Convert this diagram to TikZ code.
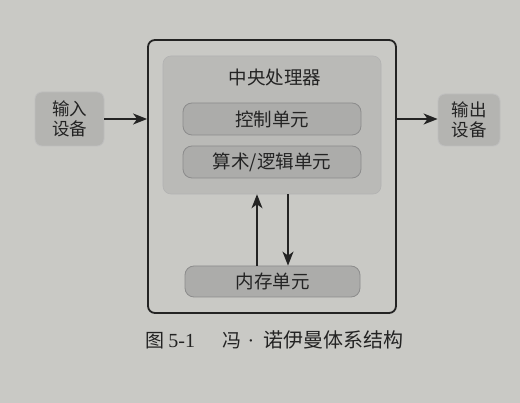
\documentclass[tikz,border=0pt]{standalone}
\usepackage{fontspec}
\newfontfamily\cjk{Noto Sans CJK SC}
\newfontfamily\latinfont{Liberation Serif}
\usetikzlibrary{arrows.meta}
\definecolor{bg}{RGB}{201,201,197}
\definecolor{cpufill}{RGB}{186,186,183}
\definecolor{unitfill}{RGB}{172,172,170}
\definecolor{devfill}{RGB}{180,180,177}
\definecolor{ink}{RGB}{35,35,35}
\tikzset{
  outerbox/.style={draw=ink, line width=1.8pt, rounded corners=7pt, inner sep=0pt},
  cpubox/.style={draw=black!30, fill=cpufill, line width=0.6pt, rounded corners=8pt, inner sep=0pt},
  unitbox/.style={draw=black!45, fill=unitfill, line width=0.8pt, rounded corners=9pt, inner sep=0pt, text=ink, font=\cjk\fontsize{18.5}{20}\selectfont},
  devbox/.style={draw=black!25, fill=devfill, line width=0.8pt, rounded corners=7pt, inner sep=0pt, align=center, text=ink, font=\cjk\fontsize{17.5}{20}\selectfont},
  arr/.style={draw=ink, line width=1.4pt, -{Stealth[length=14pt,width=11pt,inset=4pt]}},
  lbl/.style={text=ink, inner sep=0pt}
}
\begin{document}
\begin{tikzpicture}[x=1pt,y=-1pt]
\fill[bg] (0,0) rectangle (520,403);
\useasboundingbox (0,0) rectangle (520,403);
\node[outerbox, minimum width=248pt, minimum height=273pt] (outer) at (272,176.5) {};
\node[cpubox, minimum width=218pt, minimum height=138pt] (cpu) at (272,125) {};
\node[lbl, font=\cjk\fontsize{18.5}{20}\selectfont] (cputitle) at (275,77) {中央处理器};
\node[unitbox, minimum width=178pt, minimum height=32pt] (ctrl) at (272,119) {控制单元};
\node[unitbox, minimum width=178pt, minimum height=32pt] (alu) at (272,162) {算术/逻辑单元};
\node[unitbox, minimum width=175pt, minimum height=31pt] (mem) at (272.5,281.5) {内存单元};
\node[devbox, minimum width=69pt, minimum height=54pt] (in) at (69.5,119) {输入\\设备};
\node[devbox, minimum width=62pt, minimum height=52pt] (out) at (469,120) {输出\\设备};
\draw[arr] (in.east) -- (in.east -| outer.west);
\draw[arr] (in.east -| outer.east) -- (in.east -| out.west);
\draw[arr] ([xshift=-15.5pt]mem.north) -- ([xshift=-15.5pt]mem.north |- cpu.south);
\draw[arr] ([xshift=15.5pt]mem.north |- cpu.south) -- ([xshift=15.5pt]mem.north);
\node[lbl, font=\cjk\fontsize{19}{20}\selectfont, anchor=base west] (cap1) at (145,348) {图 {\latinfont\fontsize{20}{20}\selectfont 5-1}};
\node[lbl, font=\cjk\fontsize{19}{20}\selectfont, anchor=base west] (cap2) at (222,348) {冯};
\node[lbl, font=\latinfont\fontsize{20}{20}\selectfont, anchor=base] (cap3) at (251,348) {·};
\node[lbl, font=\cjk\fontsize{20}{20}\selectfont, anchor=base west] (cap4) at (263,348) {诺伊曼体系结构};
\end{tikzpicture}
\end{document}
